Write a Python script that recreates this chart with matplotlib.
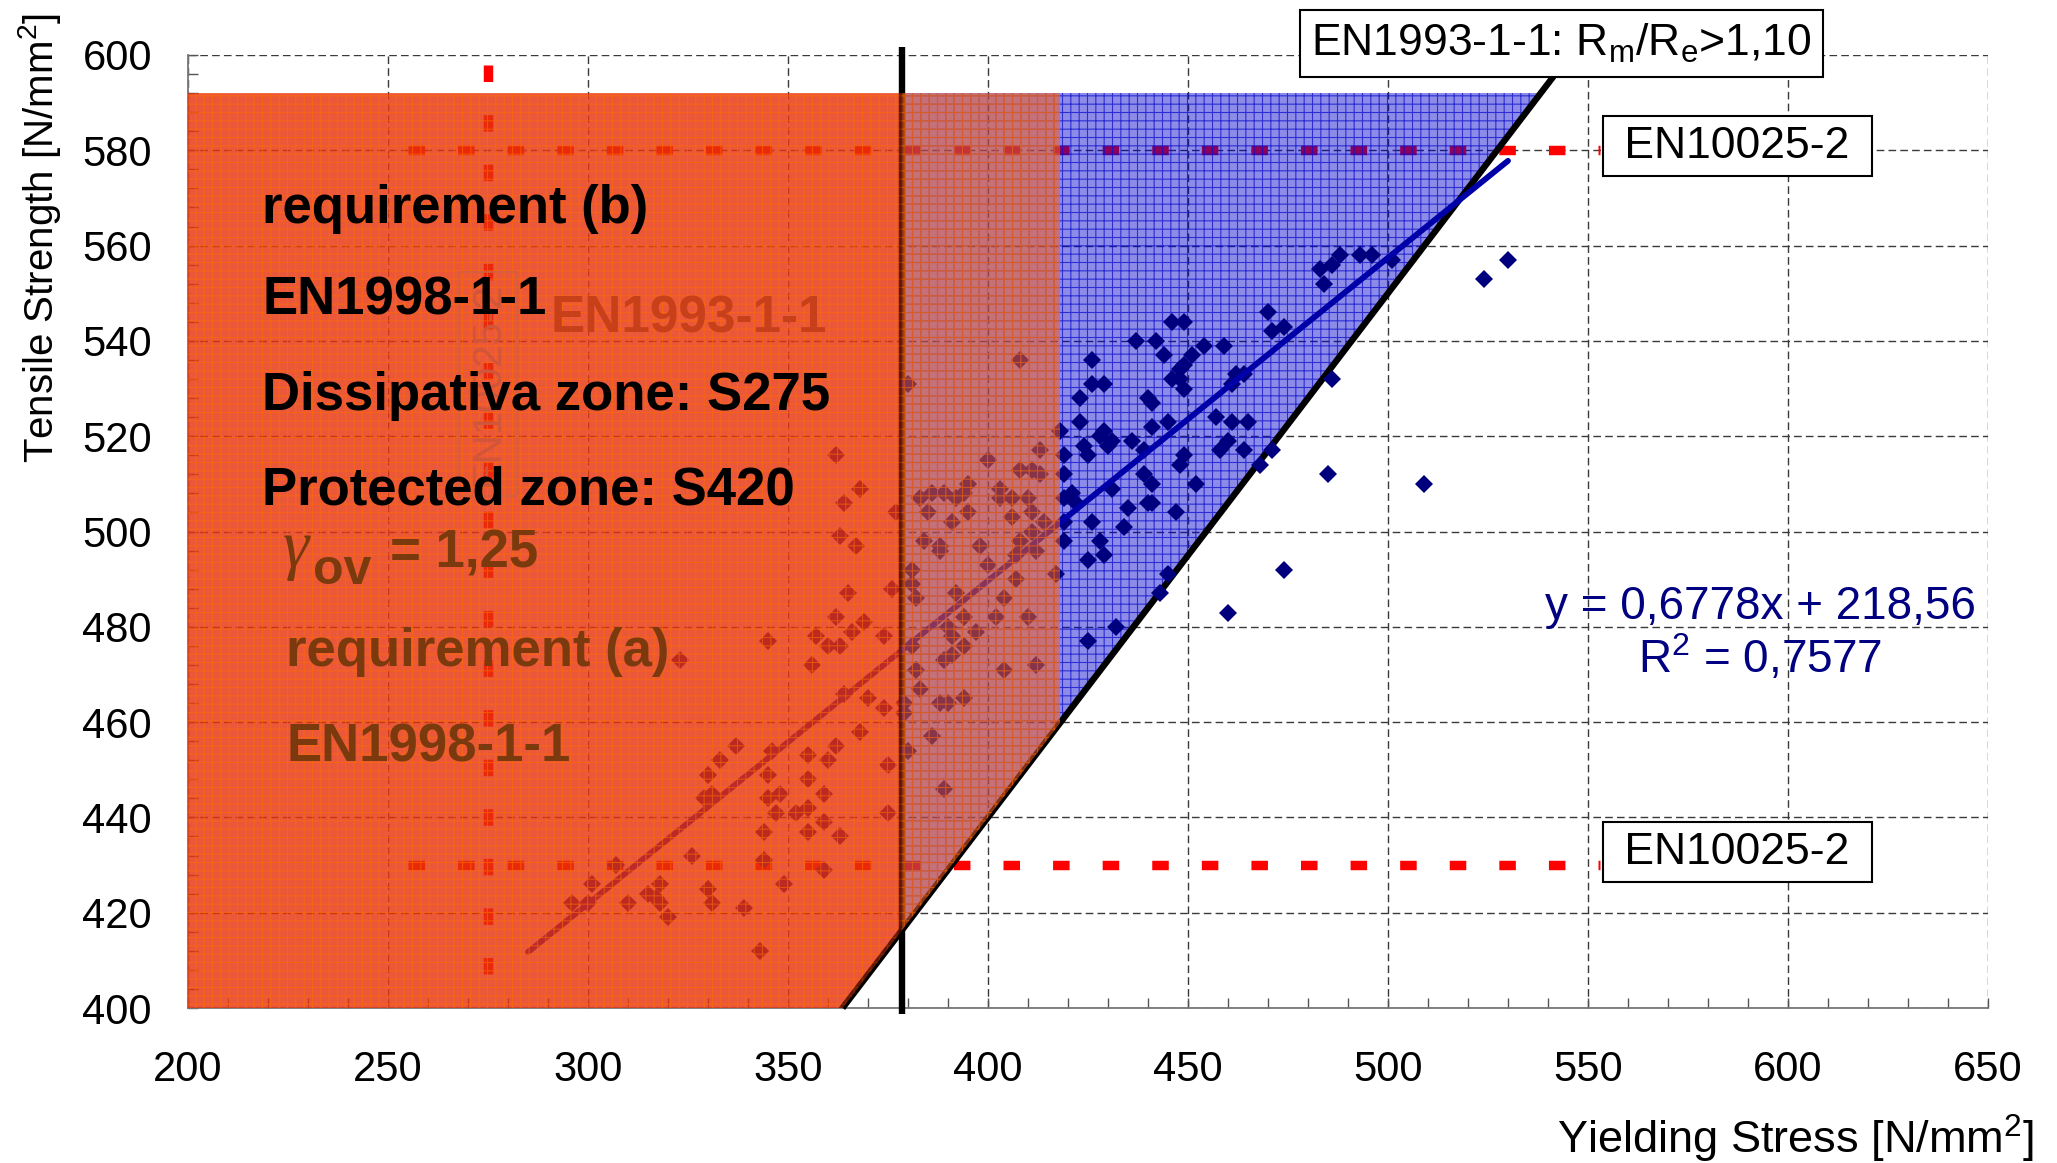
import numpy as np
import matplotlib.pyplot as plt
from matplotlib.patches import Polygon
from matplotlib.ticker import MultipleLocator

plt.rcParams['font.family'] = ['Liberation Sans', 'DejaVu Sans']
plt.rcParams['mathtext.fontset'] = 'custom'
plt.rcParams['mathtext.rm'] = 'Liberation Sans'
plt.rcParams['mathtext.it'] = 'Liberation Serif:italic'
plt.rcParams['mathtext.bf'] = 'Liberation Sans:bold'
plt.rcParams['mathtext.default'] = 'regular'
plt.rcParams['hatch.linewidth'] = 0.8

# ---- data ----
yield_stress = [
    530, 524, 486, 485, 509, 474, 474, 483, 486, 488, 493, 496, 484, 501,
    470, 471, 446, 449, 437, 442, 444, 454, 459, 451, 449, 448, 446, 449, 448,
    426, 426, 429, 423, 440, 441, 462, 464, 461, 423, 441, 445, 457, 461, 465,
    429, 428, 424, 425, 430, 431, 436, 439, 449, 448, 460, 458, 464, 471, 468,
    439, 441, 452, 421, 422, 431, 435, 440, 441, 447, 426, 434, 428, 429, 425,
    445, 443, 460, 432, 425,
    362, 368, 364, 363, 367, 365, 362, 357, 360, 363, 366, 369, 374, 356, 376,
    377, 364, 370, 374, 368, 362, 355, 360, 375, 355,
    383, 386, 389, 392, 395, 394, 391, 385, 395, 400, 403, 403, 408, 413, 411,
    413, 406, 410, 411, 406, 414, 411, 408, 412, 384, 388, 388, 398, 400, 407,
    381, 382, 381, 392, 394, 404, 407, 402, 410, 397, 390, 391, 394, 389, 391,
    382, 381, 404, 412, 383, 388, 390, 394, 379, 386, 389, 379, 380,
    418, 419, 419, 419, 419, 419, 417, 408, 380, 375,
    345, 323, 337, 333, 330, 329, 331, 345, 346, 345, 348, 347, 352, 344, 326,
    344, 349, 318, 317, 318, 320, 310, 301, 296, 300, 307, 330, 331, 339, 343,
    359, 355, 359, 355, 363, 359, 315,
]
tensile_strength = [
    557, 553, 532, 512, 510, 492, 543, 555, 556, 558, 558, 558, 552, 557,
    546, 542, 544, 544, 540, 540, 537, 539, 539, 537, 535, 534, 532, 530, 532,
    536, 531, 531, 528, 528, 527, 533, 533, 531, 523, 522, 523, 524, 523, 523,
    521, 520, 518, 516, 518, 519, 519, 517, 516, 514, 519, 517, 517, 517, 514,
    512, 510, 510, 508, 506, 509, 505, 506, 506, 504, 502, 501, 498, 495, 494,
    491, 487, 483, 480, 477,
    516, 509, 506, 499, 497, 487, 482, 478, 476, 476, 479, 481, 478, 472, 488,
    504, 466, 465, 463, 458, 455, 453, 452, 451, 448,
    507, 508, 508, 507, 510, 508, 502, 504, 504, 515, 509, 507, 513, 517, 513,
    512, 507, 507, 504, 503, 502, 500, 498, 496, 498, 497, 496, 497, 493, 495,
    492, 486, 489, 487, 482, 486, 490, 482, 482, 479, 480, 478, 476, 473, 474,
    471, 476, 471, 472, 467, 464, 464, 465, 464, 457, 446, 462, 454,
    521, 516, 512, 507, 502, 498, 491, 536, 531, 441,
    477, 473, 455, 452, 449, 444, 445, 449, 454, 444, 445, 441, 441, 437, 432,
    431, 426, 426, 423, 422, 419, 422, 426, 422, 422, 430, 425, 422, 421, 412,
    445, 442, 439, 437, 436, 429, 424,
]

# linear trendline as printed on the chart
trend_slope = 0.6778
trend_intercept = 218.56
trend_x = [285, 530]

# code limits
ratio_limit = 1.10          # Rm/Re > 1,10
dissipative_max = 378.4     # 1,1 * 1,25 * 275
protected_max = 418
tensile_cap = 592
en10025_upper = 580
en10025_lower = 430
s275 = 275

fig = plt.figure(figsize=(20.57, 11.63), dpi=100)
ax = fig.add_axes([188 / 2057, 1 - 1008 / 1163, 1800 / 2057, 953 / 1163])
ax.set_xlim(200, 650)
ax.set_ylim(400, 600)

# grid + axes look
ax.set_axisbelow(True)
ax.grid(True, which='major', color='#3a3a3a', lw=1.0, linestyle=(0, (5.5, 3.0)))
for s in ['top', 'right']:
    ax.spines[s].set_visible(False)
for s in ['left', 'bottom']:
    ax.spines[s].set_color('#777777')
    ax.spines[s].set_linewidth(1.3)
ax.xaxis.set_major_locator(MultipleLocator(50))
ax.xaxis.set_minor_locator(MultipleLocator(10))
ax.yaxis.set_major_locator(MultipleLocator(20))
ax.yaxis.set_minor_locator(MultipleLocator(4))
ax.tick_params(which='both', direction='in', length=7, width=1.0, color='#555555')
ax.tick_params(axis='x', which='major', labelsize=30, pad=30)
ax.tick_params(axis='y', which='major', labelsize=30, pad=26)

fig.text(0.989, 0.021, 'Yielding Stress [N/mm$^2$]', ha='right', va='center', fontsize=32.5)
fig.text(0.019, 0.795, 'Tensile Strength [N/mm$^2$]', ha='center', va='center',
         rotation=90, fontsize=29)

# red dashed code lines
red_dash = dict(color='#ff0000', lw=6.8, linestyle=(0, (1.75, 3.5)),
                dash_capstyle='butt', zorder=1, clip_on=False)
ax.plot([255, 553], [en10025_upper, en10025_upper], **red_dash)
ax.plot([255, 553], [en10025_lower, en10025_lower], **red_dash)
ax.plot([s275, s275], [598, 401], **red_dash)

# blue zone: x >= dissipative_max, Rm/Re >= 1,1, y <= cap
x_line_lo = 400 / ratio_limit
blue_pts = [(dissipative_max, ratio_limit * dissipative_max), (dissipative_max, tensile_cap),
            (tensile_cap / ratio_limit, tensile_cap)]
ax.add_patch(Polygon(blue_pts, closed=True, fc=(0, 0, 0.8, 0.45), ec='none', zorder=2))
ax.add_patch(Polygon(blue_pts, closed=True, fc='none', ec=(0.05, 0.05, 0.8, 0.75),
                     lw=0, hatch='++', zorder=2.1))

# black limit lines
ax.plot([x_line_lo, 542], [400, ratio_limit * 542], color='black', lw=4.6,
        solid_capstyle='butt', zorder=3, clip_on=False)
ax.plot([dissipative_max, dissipative_max], [398.7, 601.7], color='black', lw=4.6,
        solid_capstyle='butt', zorder=3, clip_on=False)

# test data and trendline
ax.plot(yield_stress, tensile_strength, linestyle='none', marker='D', ms=8.8,
        mew=0, color='#00007f', zorder=4)
trend_y = [trend_slope * v + trend_intercept for v in trend_x]
ax.plot(trend_x, trend_y, color='#0000a8', lw=4.2, solid_capstyle='round', zorder=4.5)

# orange zone (dissipative part and protected overlap)
orange_a = [(200, 400), (x_line_lo, 400), (dissipative_max, ratio_limit * dissipative_max),
            (dissipative_max, tensile_cap), (200, tensile_cap)]
orange_b = [(dissipative_max, ratio_limit * dissipative_max),
            (protected_max, ratio_limit * protected_max),
            (protected_max, tensile_cap), (dissipative_max, tensile_cap)]
pa = Polygon(orange_a, closed=True, fc=(0.90, 0.20, 0.05, 0.82), ec='none', zorder=5)
pb = Polygon(orange_b, closed=True, fc=(0.95, 0.36, 0.12, 0.56), ec='none', zorder=5)
ax.add_patch(pa)
ax.add_patch(pb)
for pts in [orange_a, orange_b]:
    ax.add_patch(Polygon(pts, closed=True, fc='none', ec=(1.0, 0.42, 0.0, 0.6),
                         lw=0, hatch='++', zorder=5.1))

# black lines seen through the orange layer
l1, = ax.plot([x_line_lo, protected_max], [400, ratio_limit * protected_max],
              color='black', lw=4.6, alpha=0.45, zorder=5.2)
l2, = ax.plot([dissipative_max, dissipative_max], [400, tensile_cap],
              color='black', lw=4.6, alpha=0.45, zorder=5.2)

# faint labels behind the orange layer
faint = '#7a3a0e'
ax.text(223.5, 492.5, r'$\mathit{\gamma}$', fontsize=48, color=faint,
        ha='left', va='baseline', zorder=6)
ax.text(231.2, 489.0, 'ov', fontsize=36, fontweight='bold', color=faint,
        ha='left', va='baseline', zorder=6)
ax.text(250.5, 492.5, '= 1,25', fontsize=38, fontweight='bold', color=faint,
        ha='left', va='baseline', zorder=6)
ax.text(224.5, 471.7, 'requirement (a)', fontsize=38, fontweight='bold', color=faint,
        ha='left', va='baseline', zorder=6)
ax.text(224.5, 451.8, 'EN1998-1-1', fontsize=38, fontweight='bold', color=faint,
        ha='left', va='baseline', zorder=6)
ax.text(290.7, 541.7, 'EN1993-1-1', fontsize=37, fontweight='bold', color='#c8401a',
        ha='left', va='baseline', zorder=6)
ax.text(s275, 531, 'EN10025-2', fontsize=29, rotation=90, color='#d0553a',
        ha='center', va='center', zorder=6,
        bbox=dict(boxstyle='square,pad=0.25', fc='none', ec='#d06040', lw=1.2))

# bold black labels
for label, yb in [('requirement (b)', 564.8), ('EN1998-1-1', 545.5),
                  ('Dissipativa zone: S275', 525.4), ('Protected zone: S420', 505.6)]:
    ax.text(218.5, yb, label, fontsize=38, fontweight='bold', color='black',
            ha='left', va='baseline', zorder=7)

# boxed labels
ax.text(543.4, 602.4, r'EN1993-1-1: R$_\mathregular{m}$/R$_\mathregular{e}$>1,10',
        fontsize=32, ha='center', va='center',
        bbox=dict(boxstyle='square,pad=0.26', fc='white', ec='black', lw=1.5),
        zorder=8, clip_on=False)
box = dict(boxstyle='square,pad=0.22', fc='white', ec='black', lw=1.5)
ax.text(587.3, 580.9, ' EN10025-2 ', fontsize=32, ha='center', va='center', bbox=box, zorder=8)
ax.text(587.3, 432.7, ' EN10025-2 ', fontsize=32, ha='center', va='center', bbox=box, zorder=8)

# trendline equation
ax.text(593, 481.6, 'y = 0,6778x + 218,56', fontsize=33, color='#000080',
        ha='center', va='baseline', zorder=8)
ax.text(593, 470.3, 'R$^2$ = 0,7577', fontsize=33, color='#000080',
        ha='center', va='baseline', zorder=8)

l1.set_clip_path(pa)
l2.set_clip_path(pa)

fig.savefig('out.png', dpi=100)
